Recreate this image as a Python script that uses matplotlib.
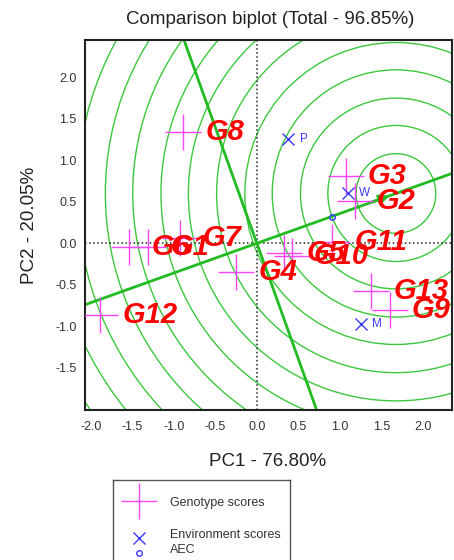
import matplotlib
matplotlib.use('Agg')
from matplotlib import pyplot as plt
from matplotlib.patches import Circle
from matplotlib.lines import Line2D

plt.rcParams['font.family'] = ['Liberation Sans', 'DejaVu Sans']

# genotype scores (PC1, PC2)
genotypes = ['G1', 'G2', 'G3', 'G4', 'G5', 'G6', 'G7', 'G8', 'G9', 'G10', 'G11', 'G12', 'G13']
g_pc1 = [-1.31, 1.18, 1.07, -0.25, 0.33, -1.54, -0.92, -0.89, 1.60, 0.42, 0.91, -1.89, 1.38]
g_pc2 = [-0.05, 0.51, 0.81, -0.35, -0.12, -0.05, 0.06, 1.34, -0.80, -0.15, 0.02, -0.87, -0.58]

# environment scores
environments = ['P', 'W', 'M']
e_pc1 = [0.38, 1.10, 1.25]
e_pc2 = [1.26, 0.61, -0.97]

# average environment coordinate and ideal genotype
aec_x, aec_y = 0.90, 0.32
ideal_x, ideal_y = 1.675, 0.60
ring_radii = [0.48, 0.82, 1.15, 1.49, 1.82, 2.16, 2.50, 2.83, 3.17, 3.50, 3.84, 4.17, 4.51]

xticks = [-2.0, -1.5, -1.0, -0.5, 0.0, 0.5, 1.0, 1.5, 2.0]
yticks = [-1.5, -1.0, -0.5, 0.0, 0.5, 1.0, 1.5, 2.0]

green = '#3cc83c'
magenta = '#ff44ff'
blue = '#3a3aff'

fig = plt.figure(figsize=(4.54, 5.6), dpi=100)
ax = fig.add_axes([85/454, 1-410/560, 367/454, 370/560])
ax.set_xlim(-2.07, 2.35)
ax.set_ylim(-2.01, 2.45)

# concentric rings around the ideal genotype
for r in ring_radii:
    ax.add_patch(Circle((ideal_x, ideal_y), r, fill=False, ec=green, lw=1, zorder=1))

# AEC axis and its perpendicular through the origin
slope = ideal_y / ideal_x
xs = [-2.07, 2.35]
ax.plot(xs, [slope*v for v in xs], color='#22bb22', lw=2, zorder=2)
ys = [-2.01, 2.45]
ax.plot([-slope*v for v in ys], ys, color='#22bb22', lw=2, zorder=2)
ax.annotate('', xy=(ideal_x*0.97, ideal_y*0.97), xytext=(ideal_x*0.8, ideal_y*0.8),
            arrowprops=dict(arrowstyle='-|>', color='#22bb22', lw=2, mutation_scale=14), zorder=2)

ax.axhline(0, color='#222222', ls=':', lw=1.1, zorder=1.5)
ax.axvline(0, color='#222222', ls=':', lw=1.1, zorder=1.5)

# genotypes
ax.plot(g_pc1, g_pc2, ls='none', marker='+', ms=26, mew=1, color=magenta, zorder=3)
for name, x, y in zip(genotypes, g_pc1, g_pc2):
    ax.annotate(name, (x, y), xytext=(16, 0), textcoords='offset points',
                ha='left', va='center', color='red', fontsize=21,
                fontweight='bold', fontstyle='italic', zorder=5)

# environments
ax.plot(e_pc1, e_pc2, ls='none', marker='x', ms=9, mew=1, color=blue, zorder=4)
for name, x, y in zip(environments, e_pc1, e_pc2):
    ax.annotate(name, (x, y), xytext=(8, 0), textcoords='offset points',
                ha='left', va='center', color=blue, fontsize=8.5, zorder=5)
ax.plot([aec_x], [aec_y], ls='none', marker='o', ms=4, mfc='none', mec=blue, mew=1, zorder=4)

ax.set_xticks(xticks)
ax.set_yticks(yticks)
ax.set_xticklabels(['%.1f' % t for t in xticks])
ax.set_yticklabels(['%.1f' % t for t in yticks])
ax.tick_params(axis='x', length=0, labelsize=9, labelcolor='#333333', pad=8)
ax.tick_params(axis='y', length=0, labelsize=9, labelcolor='#333333', pad=6)
for s in ax.spines.values():
    s.set_linewidth(1.5)
    s.set_color('#222222')

fig.text(270/454, 1-20/560, 'Comparison biplot (Total - 96.85%)', ha='center', va='center',
         fontsize=13.5, color='#222222')
fig.text(268/454, 1-462/560, 'PC1 - 76.80%', ha='center', va='center', fontsize=13.5, color='#222222')
fig.text(30/454, 1-225/560, 'PC2 - 20.05%', ha='center', va='center', rotation=90,
         fontsize=13.5, color='#222222')

# legend box
lax = fig.add_axes([113/454, 0, 177/454, 80/560])
lax.set_xlim(0, 177)
lax.set_ylim(80, 0)
lax.set_xticks([])
lax.set_yticks([])
lax.spines['bottom'].set_visible(False)
for s in ['left', 'top', 'right']:
    lax.spines[s].set_color('#555555')
    lax.spines[s].set_linewidth(1)
lax.add_line(Line2D([26], [21], ls='none', marker='+', ms=26, mew=1, color=magenta))
lax.add_line(Line2D([26], [57.5], ls='none', marker='x', ms=9, mew=1, color=blue))
lax.add_line(Line2D([26], [72.5], ls='none', marker='o', ms=4, mfc='none', mec=blue, mew=1))
lax.text(57, 23, 'Genotype scores', va='center', fontsize=9, color='#333333')
lax.text(57, 55, 'Environment scores', va='center', fontsize=9, color='#333333')
lax.text(57, 70, 'AEC', va='center', fontsize=9, color='#333333')

fig.savefig('out.png', dpi=100)
